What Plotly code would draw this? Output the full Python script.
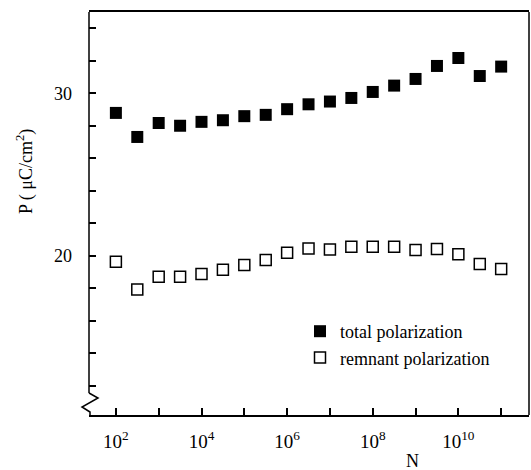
import plotly.graph_objects as go

# Cycle numbers N (half-decade steps)
log_n = [2, 2.5, 3, 3.5, 4, 4.5, 5, 5.5, 6, 6.5, 7, 7.5, 8, 8.5, 9, 9.5, 10, 10.5, 11]
n_cycles = [10 ** v for v in log_n]

total_pol = [28.79, 27.31, 28.17, 28.0, 28.24, 28.34, 28.59, 28.67, 29.02, 29.32,
             29.49, 29.71, 30.08, 30.47, 30.88, 31.68, 32.17, 31.06, 31.64]
remnant_pol = [19.63, 17.93, 18.71, 18.71, 18.88, 19.14, 19.43, 19.74, 20.18, 20.45,
               20.39, 20.55, 20.55, 20.55, 20.35, 20.41, 20.1, 19.49, 19.18]

x_major_exps = [2, 4, 6, 8, 10]
x_major_text = ["10<sup>2</sup>", "10<sup>4</sup>", "10<sup>6</sup>",
                "10<sup>8</sup>", "10<sup>10</sup>"]
x_minor_exps = [3, 5, 7, 9, 11]
y_major_vals = [20, 30]
y_major_text = ["20", "30"]
y_minor_vals = [12, 14, 16, 18, 22, 24, 26, 28, 32, 34]

FONT = "Liberation Serif"
W, H = 531, 470
L, R, T, B = 89, 2, 12, 55
PW, PH = W - L - R, H - T - B


def px(x):
    return (x - L) / PW


def py(y):
    return (H - B - y) / PH


fig = go.Figure()
fig.add_trace(go.Scatter(
    x=n_cycles, y=total_pol, mode="markers", name="total polarization",
    marker=dict(symbol="square", size=12, color="black"),
))
fig.add_trace(go.Scatter(
    x=n_cycles, y=remnant_pol, mode="markers", name="remnant polarization",
    marker=dict(symbol="square-open", size=11, color="black",
                line=dict(width=1.5, color="black")),
))

axis_color = "black"
fig.update_layout(
    width=W, height=H,
    margin=dict(l=L, r=R, t=T, b=B),
    paper_bgcolor="white", plot_bgcolor="white",
    font=dict(family=FONT, size=18, color="black"),
    showlegend=True,
    legend=dict(x=px(300), y=py(313), xanchor="left", yanchor="top",
                font=dict(family=FONT, size=18, color="black"),
                bgcolor="rgba(0,0,0,0)", tracegroupgap=0),
    xaxis=dict(
        type="log", range=[1.372, 11.65],
        tickmode="array", tickvals=[10 ** e for e in x_major_exps], ticktext=x_major_text,
        ticks="inside", ticklen=7, tickwidth=1.5, tickcolor=axis_color,
        minor=dict(tickmode="array", tickvals=[10 ** e for e in x_minor_exps],
                   ticks="inside", ticklen=7, tickwidth=1.5, tickcolor=axis_color,
                   showgrid=False),
        showline=True, linecolor=axis_color, linewidth=1.5, mirror=True,
        showgrid=False, zeroline=False,
        tickfont=dict(family=FONT, size=19), ticklabelstandoff=8,
    ),
    yaxis=dict(
        range=[10.2, 35],
        tickmode="array", tickvals=y_major_vals, ticktext=y_major_text,
        ticks="inside", ticklen=7, tickwidth=1.5, tickcolor=axis_color,
        minor=dict(tickmode="array", tickvals=y_minor_vals,
                   ticks="inside", ticklen=7, tickwidth=1.5, tickcolor=axis_color,
                   showgrid=False),
        showline=False, showgrid=False, zeroline=False,
        tickfont=dict(family=FONT, size=18), ticklabelstandoff=16,
    ),
    annotations=[
        dict(text="P ( \u03bcC/cm<sup>2</sup>)", xref="paper", yref="paper",
             x=px(25), y=py(172), textangle=-90, showarrow=False,
             font=dict(family=FONT, size=18), xanchor="center", yanchor="middle"),
        dict(text="N", xref="paper", yref="paper", x=px(412), y=py(461),
             showarrow=False, font=dict(family=FONT, size=18),
             xanchor="center", yanchor="middle"),
    ],
    shapes=[
        # left axis line above the break
        dict(type="line", xref="paper", yref="paper", x0=0, x1=0, y0=py(393), y1=1,
             line=dict(color=axis_color, width=1.5)),
        # right frame line
        dict(type="line", xref="paper", yref="paper", x0=1, x1=1, y0=0, y1=1,
             line=dict(color=axis_color, width=1.5)),
        # axis break zigzag
        dict(type="path", xref="paper", yref="paper",
             path=(f"M {px(89)},{py(393)} L {px(98)},{py(398)} L {px(82)},{py(407)} "
                   f"L {px(90)},{py(412)} L {px(90)},{py(415)}"),
             line=dict(color=axis_color, width=1.5)),
    ],
)

fig.write_html("out.html")
